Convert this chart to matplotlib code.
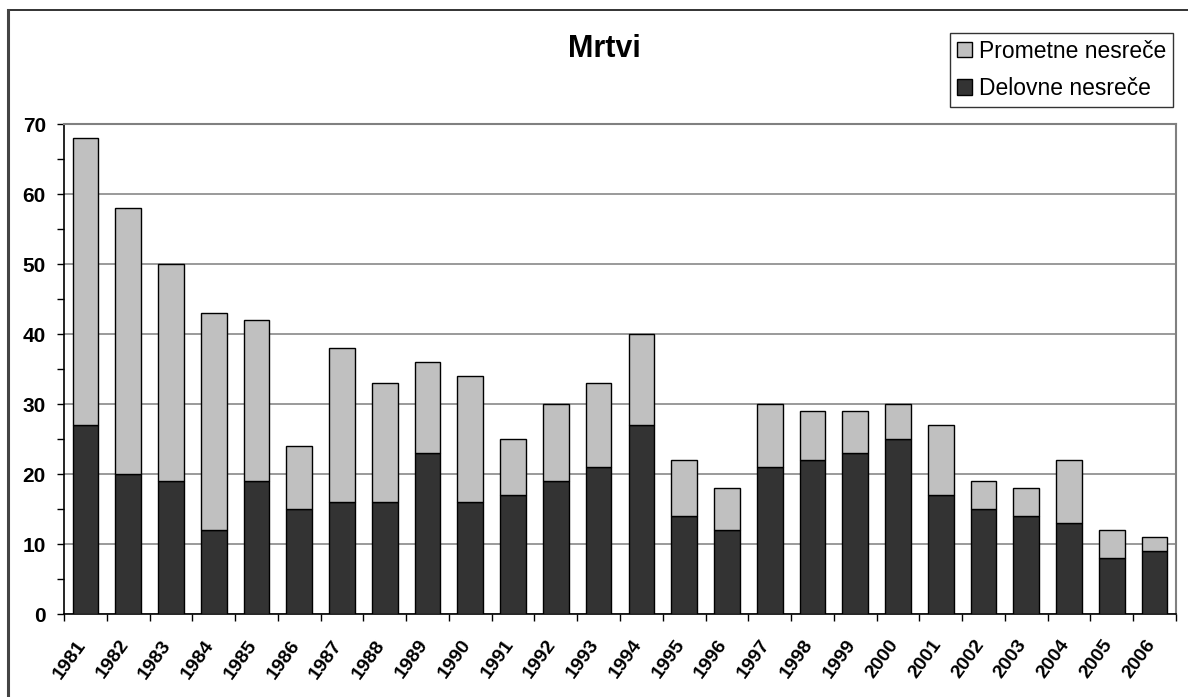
import matplotlib
matplotlib.use("Agg")
import matplotlib.pyplot as plt
import matplotlib.transforms as mtransforms
from matplotlib.patches import Rectangle
from matplotlib.ticker import MultipleLocator, FixedLocator
import numpy as np

plt.rcParams['font.family'] = ['Liberation Sans', 'DejaVu Sans']

years = [str(y) for y in range(1981, 2007)]
delovne = [27, 20, 19, 12, 19, 15, 16, 16, 23, 16, 17, 19, 21, 27,
           14, 12, 21, 22, 23, 25, 17, 15, 14, 13, 8, 9]
prometne = [41, 38, 31, 31, 23, 9, 22, 17, 13, 18, 8, 11, 12, 13,
            8, 6, 9, 7, 6, 5, 10, 4, 4, 9, 4, 2]
series_names = ["Prometne nesreče", "Delovne nesreče"]
title = "Mrtvi"

W, H = 1188, 697
fig = plt.figure(figsize=(W / 100, H / 100), dpi=100)
fig.patch.set_facecolor('white')
fig.patch.set_edgecolor('none')
fig.patch.set_linewidth(0)

# outer chart border (top and left edges are inside the canvas)
fig.add_artist(plt.Line2D([7.5 / W, 1.0], [1 - 10 / H, 1 - 10 / H],
                          transform=fig.transFigure, color='#111111',
                          linewidth=1.2))
fig.add_artist(plt.Line2D([7.5 / W, 7.5 / W], [0, 1 - 10 / H],
                          transform=fig.transFigure, color='#444444',
                          linewidth=2.2))
# blank strip along the right edge of the canvas
fig.add_artist(Rectangle((1179 / W, 0), 20 / W, 1 - 11.5 / H,
                         transform=fig.transFigure, facecolor='white',
                         edgecolor='none', zorder=50))

ax = fig.add_axes([64 / W, 1 - 614 / H, (1176 - 64) / W, (614 - 124) / H])

x = np.arange(len(years))
ax.bar(x, delovne, width=0.6, color='#333333', edgecolor='black',
       linewidth=1.0, label=series_names[1], zorder=3)
ax.bar(x, prometne, width=0.6, bottom=delovne, color='#C0C0C0',
       edgecolor='black', linewidth=1.0, label=series_names[0], zorder=3)

ax.set_xlim(-0.5, len(years) - 0.5)
ax.set_ylim(0, 70)

# y axis
ax.yaxis.set_major_locator(MultipleLocator(10))
ax.yaxis.set_minor_locator(MultipleLocator(5))
ax.tick_params(axis='y', which='both', direction='out', length=5,
               width=1, color='black', pad=8, labelsize=15)
for lab in ax.get_yticklabels():
    lab.set_fontweight('bold')
ax.grid(axis='y', which='major', color='#7f7f7f', linewidth=1.1, zorder=1)

# x axis: boundaries get ticks, centres carry labels
ax.set_xticks(x)
ax.set_xticklabels(years, rotation=54, ha='right', va='center',
                   rotation_mode='anchor', fontweight='bold', fontsize=14)
ax.xaxis.set_minor_locator(FixedLocator(np.arange(-0.5, len(years), 1.0)))
ax.tick_params(axis='x', which='major', length=0, pad=20)
ax.tick_params(axis='x', which='minor', direction='out', length=5,
               width=1, color='black')
shift = mtransforms.ScaledTranslation(-3 / 100, 0, fig.dpi_scale_trans)
for lab in ax.get_xticklabels():
    lab.set_transform(lab.get_transform() + shift)

for side in ('left', 'bottom'):
    ax.spines[side].set_color('black')
    ax.spines[side].set_linewidth(1.2)
for side in ('top', 'right'):
    ax.spines[side].set_color('#808080')
    ax.spines[side].set_linewidth(1.5)

fig.text(604 / W, 1 - 49 / H, title, ha='center', va='center',
         fontsize=22, fontweight='bold')

handles, labels = ax.get_legend_handles_labels()
leg = fig.legend(handles[::-1], labels[::-1], loc='upper right',
                 bbox_to_anchor=(1173 / W, 1 - 33 / H), fontsize=16.5,
                 frameon=True, fancybox=False, edgecolor='black',
                 handlelength=0.65, handleheight=0.65, handletextpad=0.3,
                 borderpad=0.3, labelspacing=0.62, borderaxespad=0)
leg.get_frame().set_linewidth(1.0)

fig.savefig("out.png", dpi=100)
